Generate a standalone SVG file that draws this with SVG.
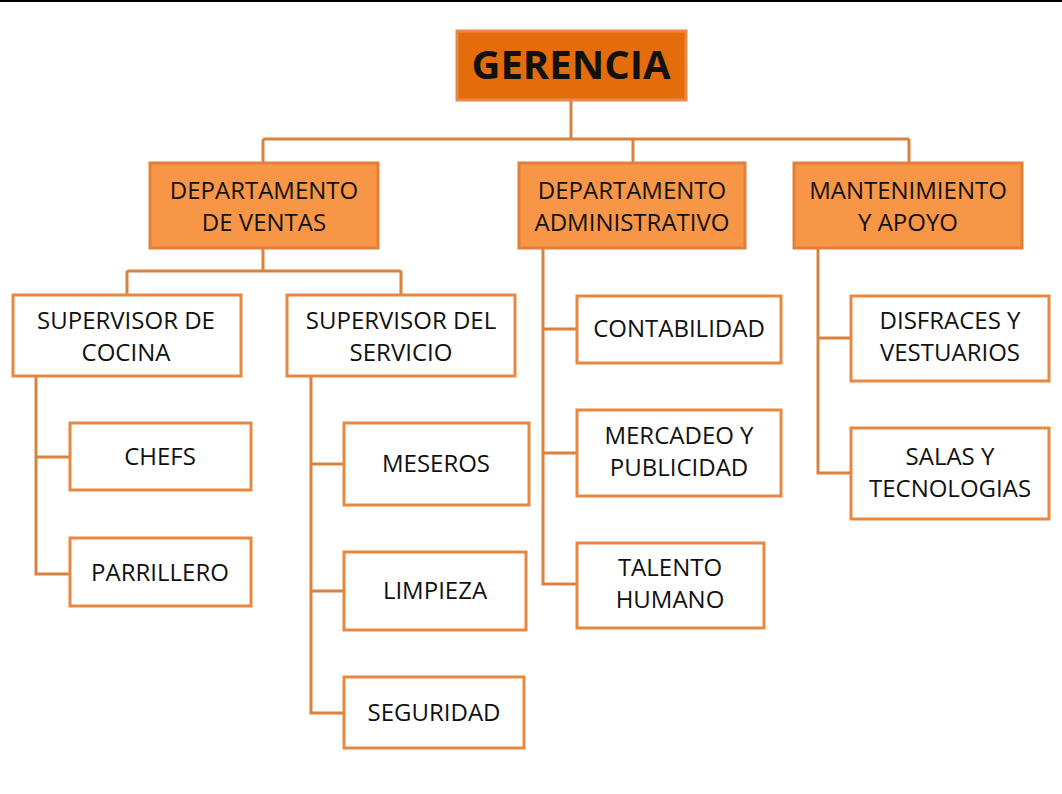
<svg xmlns="http://www.w3.org/2000/svg" width="1062" height="794" viewBox="0 0 1062 794">
<style>
text{font-family:"Open Sans","Noto Sans","Liberation Sans",sans-serif;fill:#111;text-anchor:middle;font-size:24px}
.top rect{fill:#E46C0A;stroke:#E8894A;stroke-width:3}
.dept rect{fill:#F79646;stroke:#E47F38;stroke-width:3}
.leaf rect{fill:#fff;stroke:#E8873F;stroke-width:3}
.conn path{fill:none;stroke:#D8823E;stroke-width:3}
.big{font-size:40px;font-weight:bold}
</style>
<rect x="0" y="0" width="1062" height="794" fill="#fff"/>
<line x1="0" y1="1" x2="1062" y2="1" stroke="#000" stroke-width="2"/>
<g class="conn">
<path d="M571 100V139M263 139H909M263 139V163M633 139V163M909 139V163"/>
<path d="M263 248V271M127 271H401M127 271V295M401 271V295"/>
<path d="M36 376V574H70M36 457H70"/>
<path d="M311 376V713H344M311 464H344M311 591H344"/>
<path d="M543 248V584H577M543 329H577M543 453H577"/>
<path d="M818 248V473H851M818 338H851"/>
</g>
<g id="gerencia" class="top"><rect x="457" y="31" width="229" height="69"/><text class="big" x="571" y="79">GERENCIA</text></g>
<g id="ventas" class="dept"><rect x="150" y="163" width="228" height="85"/><text x="264" y="199">DEPARTAMENTO</text><text x="264" y="231">DE VENTAS</text></g>
<g id="admin" class="dept"><rect x="519" y="163" width="226" height="85"/><text x="632" y="199">DEPARTAMENTO</text><text x="632" y="231">ADMINISTRATIVO</text></g>
<g id="mant" class="dept"><rect x="794" y="163" width="228" height="85"/><text x="908" y="199">MANTENIMIENTO</text><text x="908" y="231">Y APOYO</text></g>
<g id="supcocina" class="leaf"><rect x="13" y="295" width="228" height="81"/><text x="126" y="329">SUPERVISOR DE</text><text x="126" y="361">COCINA</text></g>
<g id="supservicio" class="leaf"><rect x="287" y="295" width="228" height="81"/><text x="401" y="329">SUPERVISOR DEL</text><text x="401" y="361">SERVICIO</text></g>
<g id="chefs" class="leaf"><rect x="70" y="423" width="181" height="67"/><text x="160" y="465">CHEFS</text></g>
<g id="parrillero" class="leaf"><rect x="70" y="538" width="181" height="68"/><text x="160" y="581">PARRILLERO</text></g>
<g id="meseros" class="leaf"><rect x="344" y="423" width="185" height="82"/><text x="436" y="472">MESEROS</text></g>
<g id="limpieza" class="leaf"><rect x="344" y="552" width="182" height="78"/><text x="435" y="599">LIMPIEZA</text></g>
<g id="seguridad" class="leaf"><rect x="344" y="677" width="180" height="71"/><text x="434" y="721">SEGURIDAD</text></g>
<g id="contabilidad" class="leaf"><rect x="577" y="296" width="204" height="67"/><text x="679" y="337">CONTABILIDAD</text></g>
<g id="mercadeo" class="leaf"><rect x="577" y="410" width="204" height="86"/><text x="679" y="444">MERCADEO Y</text><text x="679" y="476">PUBLICIDAD</text></g>
<g id="talento" class="leaf"><rect x="577" y="543" width="187" height="85"/><text x="670" y="576">TALENTO</text><text x="670" y="608">HUMANO</text></g>
<g id="disfraces" class="leaf"><rect x="851" y="296" width="198" height="85"/><text x="950" y="329">DISFRACES Y</text><text x="950" y="361">VESTUARIOS</text></g>
<g id="salas" class="leaf"><rect x="851" y="428" width="198" height="91"/><text x="950" y="465">SALAS Y</text><text x="950" y="497">TECNOLOGIAS</text></g>
</svg>
